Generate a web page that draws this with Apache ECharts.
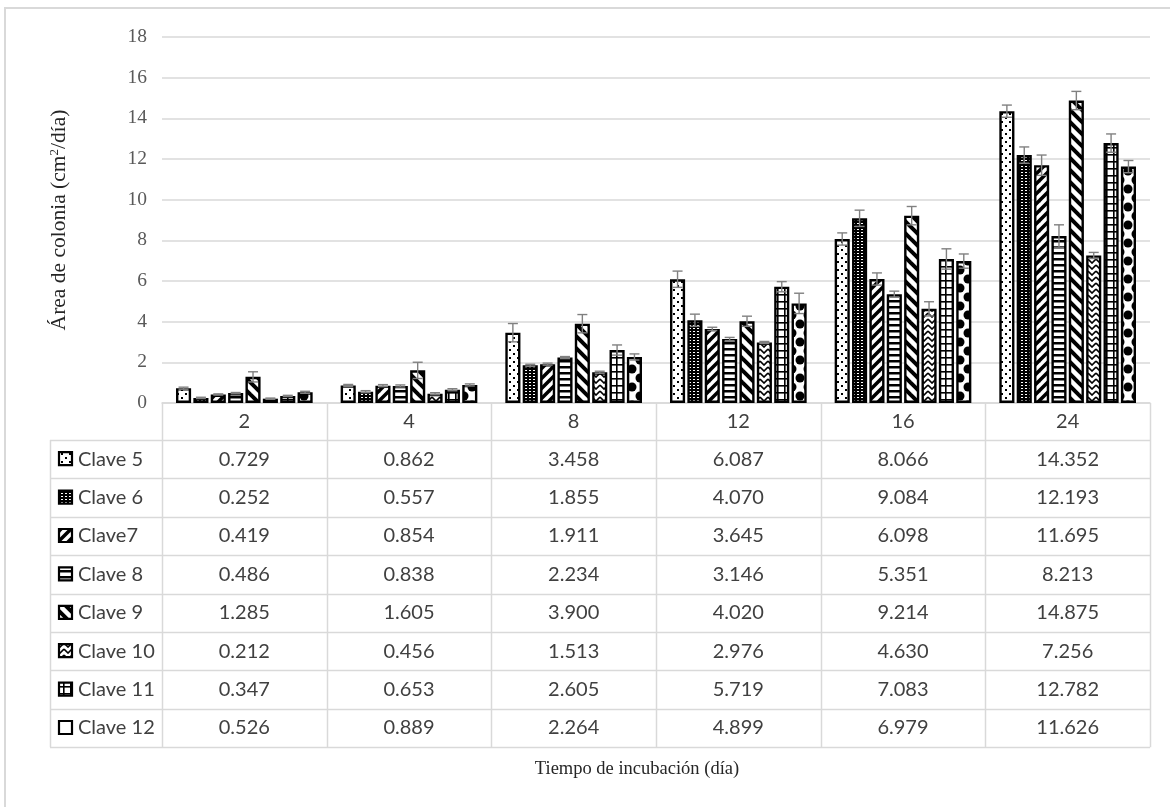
<!DOCTYPE html>
<html>
<head>
<meta charset="utf-8">
<script src="https://cdn.jsdelivr.net/npm/echarts@6/dist/echarts.min.js"></script>
<style>
html,body{margin:0;padding:0;background:#fff;}
#chart{width:1170px;height:807px;}
</style>
</head>
<body>
<div id="chart"></div>
<script>
// ---------------- DATA ----------------
const categories = ['2', '4', '8', '12', '16', '24'];
const seriesNames = ['Clave 5', 'Clave 6', 'Clave7', 'Clave 8', 'Clave 9', 'Clave 10', 'Clave 11', 'Clave 12'];
const clave5  = [0.729, 0.862, 3.458, 6.087, 8.066, 14.352];
const clave6  = [0.252, 0.557, 1.855, 4.070, 9.084, 12.193];
const clave7  = [0.419, 0.854, 1.911, 3.645, 6.098, 11.695];
const clave8  = [0.486, 0.838, 2.234, 3.146, 5.351, 8.213];
const clave9  = [1.285, 1.605, 3.900, 4.020, 9.214, 14.875];
const clave10 = [0.212, 0.456, 1.513, 2.976, 4.630, 7.256];
const clave11 = [0.347, 0.653, 2.605, 5.719, 7.083, 12.782];
const clave12 = [0.526, 0.889, 2.264, 4.899, 6.979, 11.626];
// error bar half-lengths
const err5  = [0.05, 0.05, 0.45, 0.40, 0.30, 0.30];
const err6  = [0.03, 0.05, 0.05, 0.30, 0.40, 0.40];
const err7  = [0.03, 0.05, 0.05, 0.08, 0.30, 0.50];
const err8  = [0.03, 0.05, 0.05, 0.08, 0.15, 0.55];
const err9  = [0.25, 0.40, 0.45, 0.25, 0.45, 0.45];
const err10 = [0.03, 0.05, 0.05, 0.05, 0.35, 0.15];
const err11 = [0.03, 0.05, 0.25, 0.25, 0.50, 0.45];
const err12 = [0.05, 0.05, 0.15, 0.50, 0.35, 0.30];
const yMin = 0, yMax = 18, yStep = 2;

const values = [clave5, clave6, clave7, clave8, clave9, clave10, clave11, clave12];
const errors = [err5, err6, err7, err8, err9, err10, err11, err12];

// ---------------- PATTERNS ----------------
function tile(w, h, draw) {
  const c = document.createElement('canvas');
  c.width = w; c.height = h;
  const g = c.getContext('2d');
  g.fillStyle = '#fff'; g.fillRect(0, 0, w, h);
  g.fillStyle = '#000'; g.strokeStyle = '#000';
  draw(g, w, h);
  return { image: c, repeat: 'repeat' };
}
function disc(g, x, y, r) { g.beginPath(); g.arc(x, y, r, 0, Math.PI * 2); g.fill(); }
const patterns = [
  // Clave 5: dots
  tile(8, 8, g => { g.fillRect(1, 1, 2, 2); g.fillRect(5, 5, 2, 2); }),
  // Clave 6: dense dark with white specks
  tile(4, 3, g => { g.fillRect(0, 0, 4, 3); g.fillStyle = '#fff'; g.fillRect(1, 1, 2, 1); }),
  // Clave 7: wide upward diagonal
  tile(10, 10, g => { g.lineWidth = 3.5; for (let k = -10; k <= 10; k += 10) { g.beginPath(); g.moveTo(k - 2, 12); g.lineTo(k + 12, -2); g.stroke(); } }),
  // Clave 8: horizontal stripes
  tile(4, 6, g => { g.fillRect(0, 0, 4, 2.5); }),
  // Clave 9: wide downward diagonal
  tile(12, 12, g => { g.lineWidth = 4; for (let k = -12; k <= 12; k += 12) { g.beginPath(); g.moveTo(k - 2, -2); g.lineTo(k + 14, 14); g.stroke(); } }),
  // Clave 10: zigzag chevrons
  tile(8, 6, g => { g.lineWidth = 1.6; g.beginPath(); g.moveTo(0, 1); g.lineTo(4, 5); g.lineTo(8, 1); g.stroke(); }),
  // Clave 11: grid
  tile(7, 7, g => { g.fillRect(0, 0, 7, 1.6); g.fillRect(0, 0, 1.6, 7); }),
  // Clave 12: spheres
  tile(16, 18, g => {
    disc(g, 8, 9, 4.5);
    disc(g, 0, 0, 4.5); disc(g, 16, 0, 4.5); disc(g, 0, 18, 4.5); disc(g, 16, 18, 4.5);
  })
];
const keyFills = patterns.slice(0, 7).concat(['#fff']);

// ---------------- LAYOUT ----------------
const gridLeft = 162, gridRight = 1150, gridTop = 37, axisY = 403;
const N = seriesNames.length;
const CAT_GAP = 0.17, BAR_GAP = 0.15;
const rowTop = 440, rowH = 38.4, legendLeft = 50;
const colW = (gridRight - gridLeft) / categories.length;
const grayLine = '#d9d9d9';
const tableFont = 'Lato, "Open Sans", sans-serif';
const serif = '"Liberation Serif", "Times New Roman", serif';

const series = [];
values.forEach((vals, i) => {
  series.push({
    name: seriesNames[i], type: 'bar', data: vals,
    barCategoryGap: (CAT_GAP * 100) + '%', barGap: (BAR_GAP * 100) + '%',
    itemStyle: { color: patterns[i], borderColor: '#000', borderWidth: 2.4 },
    emphasis: { disabled: true }, z: 2
  });
});
values.forEach((vals, i) => {
  series.push({
    type: 'custom', z: 5, silent: true,
    data: vals.map((v, j) => [j, v, errors[i][j]]),
    renderItem: function (params, api) {
      const cat = api.value(0), v = api.value(1), e = api.value(2);
      const c = api.coord([cat, v]);
      const band = api.size([1, 0])[0];
      const avail = band * (1 - CAT_GAP);
      const bw = avail / (N + (N - 1) * BAR_GAP);
      const x = c[0] - avail / 2 + i * bw * (1 + BAR_GAP) + bw / 2;
      const yHi = api.coord([cat, v + e])[1];
      const yLo = api.coord([cat, v - e])[1];
      const hw = 5;
      const st = { stroke: '#808080', lineWidth: 1.4 };
      return {
        type: 'group', children: [
          { type: 'line', shape: { x1: x, y1: yHi, x2: x, y2: yLo }, style: st },
          { type: 'line', shape: { x1: x - hw, y1: yHi, x2: x + hw, y2: yHi }, style: st },
          { type: 'line', shape: { x1: x - hw, y1: yLo, x2: x + hw, y2: yLo }, style: st }
        ]
      };
    }
  });
});

// ---------------- TABLE (graphic) ----------------
const graphics = [];
graphics.push({ type: 'rect', shape: { x: 5, y: 8, width: 1300, height: 900 }, style: { fill: null, stroke: grayLine, lineWidth: 2 }, silent: true, z: 0 });
const tableBottom = rowTop + rowH * N;
for (let k = 0; k <= N; k++) {
  const y = Math.round(rowTop + rowH * k) + 0.5;
  graphics.push({ type: 'line', shape: { x1: legendLeft, y1: y, x2: gridRight, y2: y }, style: { stroke: grayLine, lineWidth: 1.5 }, silent: true });
}
graphics.push({ type: 'line', shape: { x1: legendLeft + 0.5, y1: rowTop, x2: legendLeft + 0.5, y2: tableBottom }, style: { stroke: grayLine, lineWidth: 1.5 }, silent: true });
for (let k = 0; k <= categories.length; k++) {
  const x = Math.round(gridLeft + colW * k) + 0.5;
  graphics.push({ type: 'line', shape: { x1: x, y1: axisY, x2: x, y2: tableBottom }, style: { stroke: grayLine, lineWidth: 1.5 }, silent: true });
}
values.forEach((vals, i) => {
  const cy = rowTop + rowH * (i + 0.5);
  graphics.push({ type: 'rect', shape: { x: 59, y: cy - 7, width: 13, height: 13 }, style: { fill: keyFills[i], stroke: '#000', lineWidth: 2.2 }, silent: true });
  graphics.push({ type: 'text', x: 78, y: cy, style: { text: seriesNames[i], font: '20px ' + tableFont, fill: '#404040', textAlign: 'left', textVerticalAlign: 'middle' }, silent: true });
  vals.forEach((v, j) => {
    graphics.push({ type: 'text', x: gridLeft + colW * (j + 0.5), y: cy, style: { text: v.toFixed(3), font: '20px ' + tableFont, fill: '#404040', textAlign: 'center', textVerticalAlign: 'middle' }, silent: true });
  });
});
graphics.push({ type: 'text', x: 637, y: 769, style: { text: 'Tiempo de incubación (día)', font: '18.5px ' + serif, fill: '#262626', textAlign: 'center', textVerticalAlign: 'middle' }, silent: true });

const chart = echarts.init(document.getElementById('chart'), null, { renderer: 'canvas' });
chart.setOption({
  animation: false,
  backgroundColor: '#fff',
  grid: { left: gridLeft, right: 1170 - gridRight, top: gridTop, bottom: 807 - axisY, containLabel: false },
  xAxis: {
    type: 'category', data: categories,
    axisLine: { show: true, lineStyle: { color: grayLine, width: 1.5 } },
    axisTick: { show: false },
    axisLabel: { fontFamily: tableFont, fontSize: 20, color: '#404040', margin: 9 },
    splitLine: { show: false }
  },
  yAxis: {
    type: 'value', min: yMin, max: yMax, interval: yStep,
    name: 'Área de colonia (cm{sup|2}/día)',
    nameLocation: 'middle', nameGap: 92, nameRotate: 90,
    nameTextStyle: { fontFamily: serif, fontSize: 21.5, color: '#262626',
      rich: { sup: { fontFamily: serif, fontSize: 13, color: '#262626', verticalAlign: 'top', padding: [0, 0, 8, 0] } } },
    axisLine: { show: false }, axisTick: { show: false },
    axisLabel: { fontFamily: serif, fontSize: 19.5, color: '#595959', margin: 15 },
    splitLine: { lineStyle: { color: grayLine, width: 1.5 } }
  },
  series: series,
  graphic: graphics
});
</script>
</body>
</html>
